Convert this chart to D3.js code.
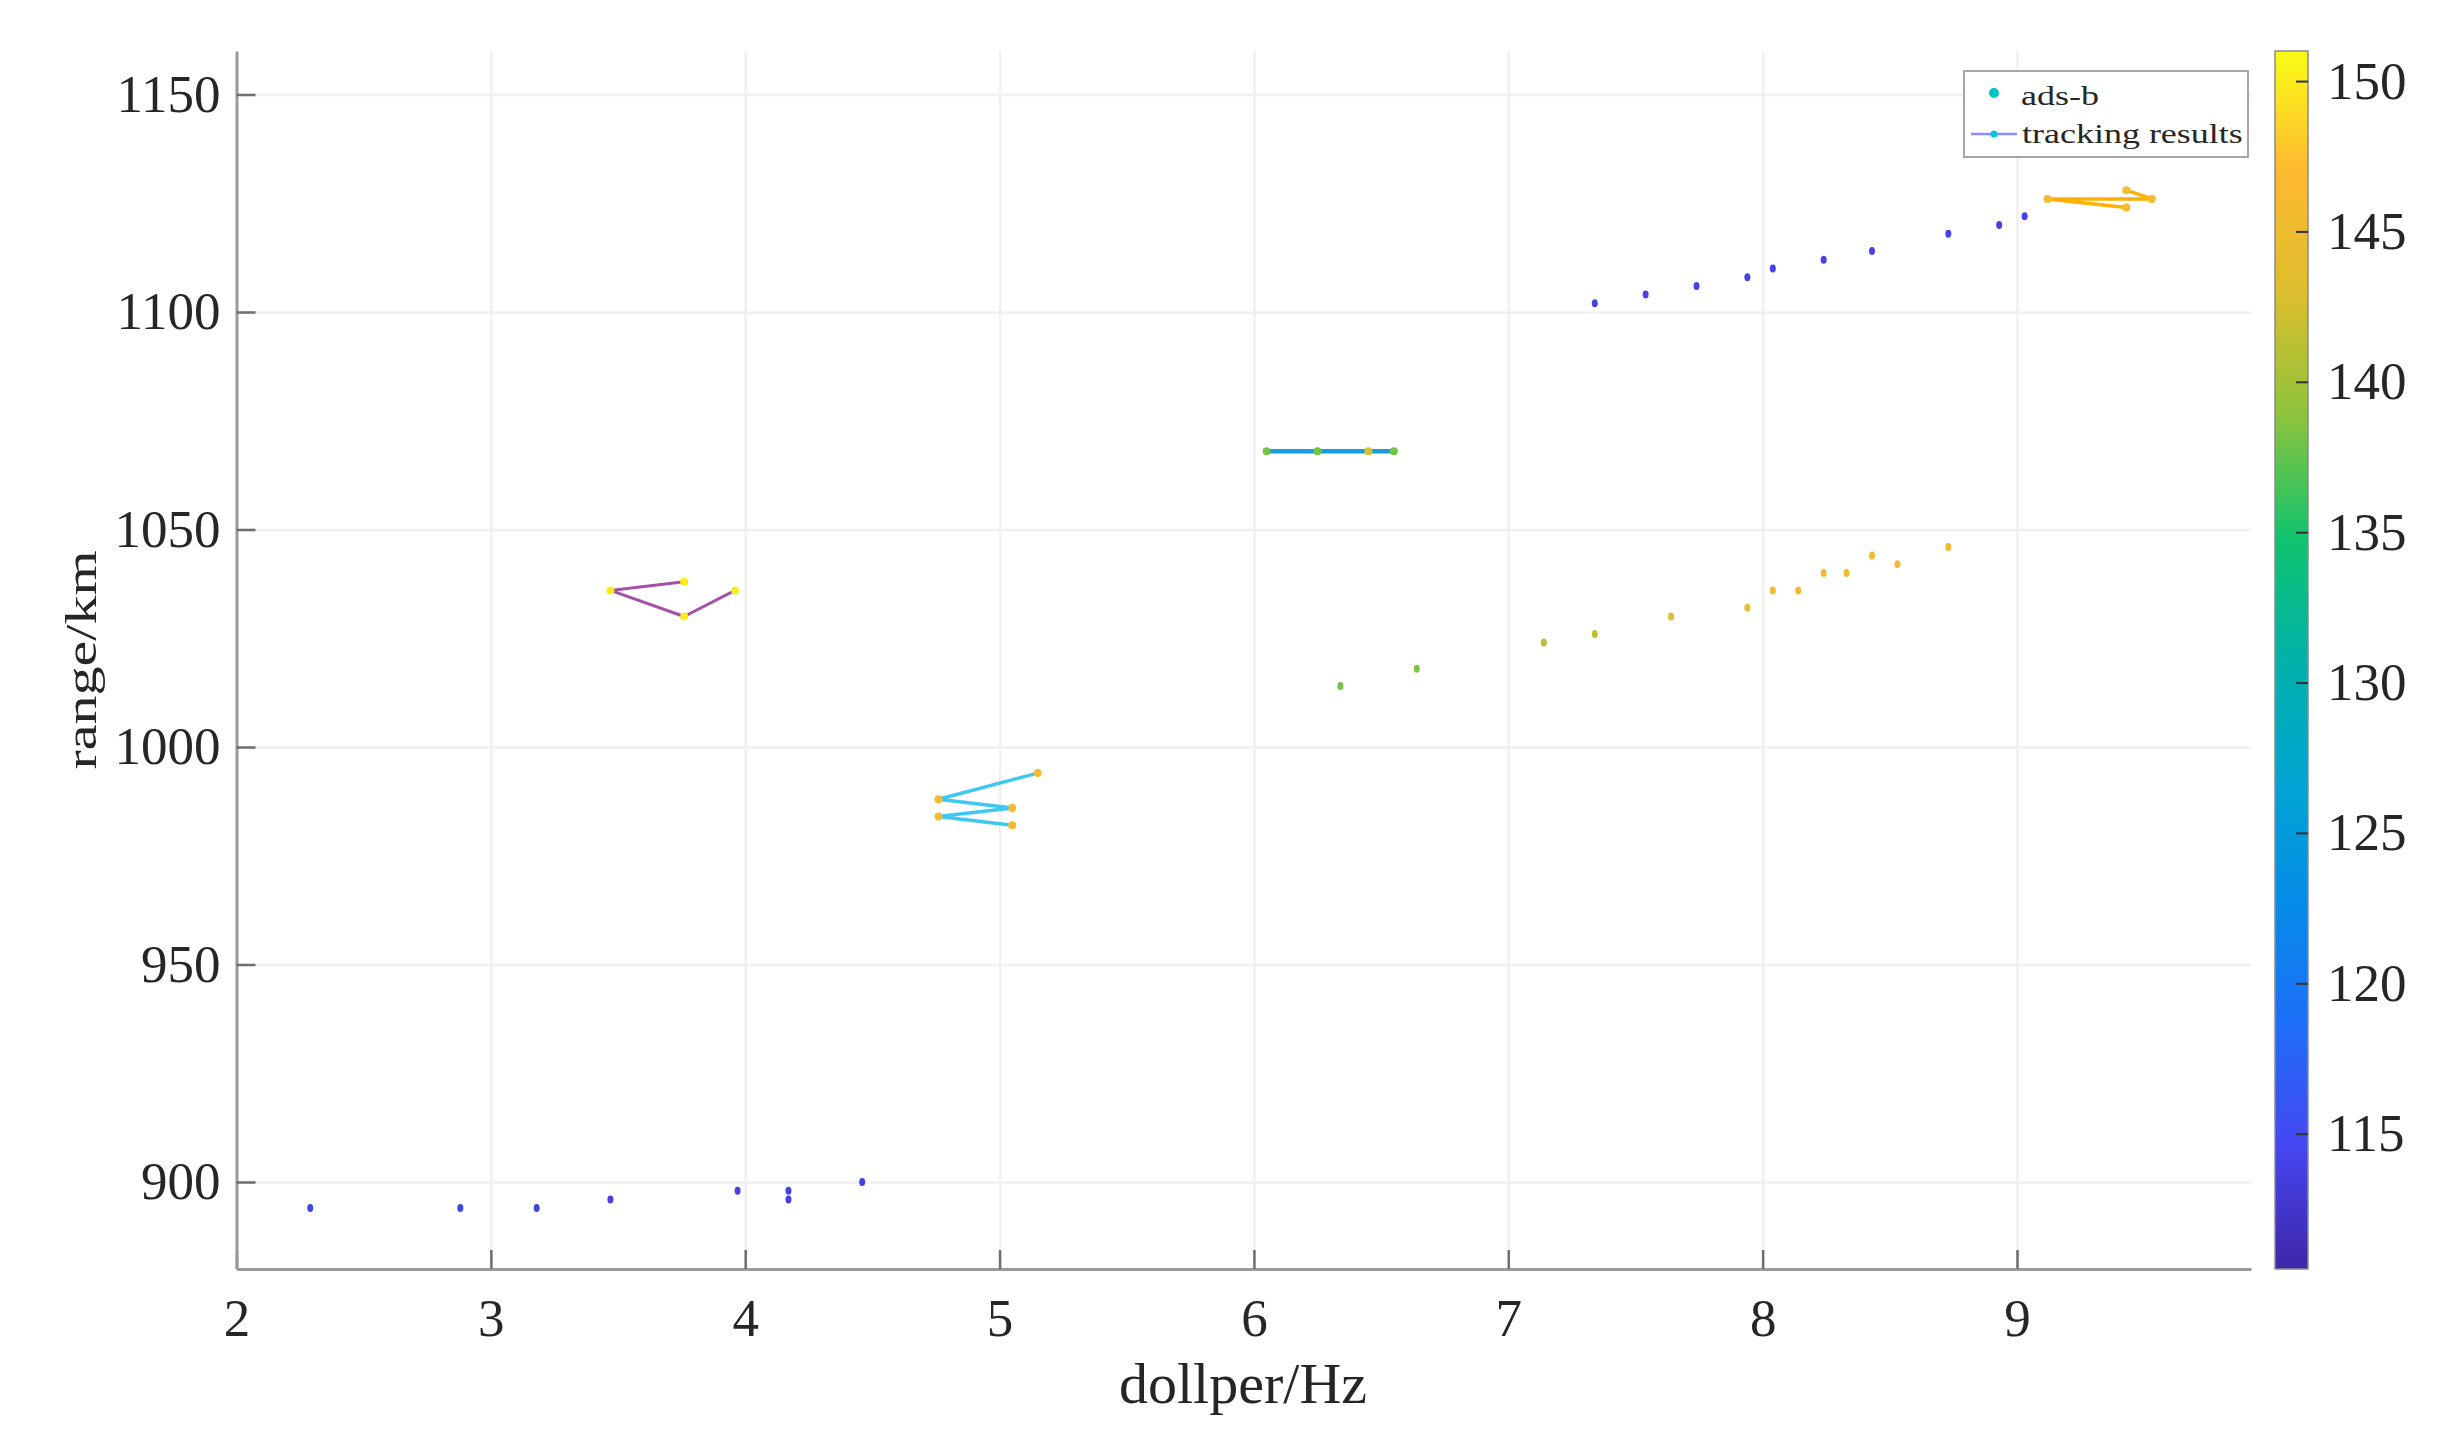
<!DOCTYPE html>
<html>
<head>
<meta charset="utf-8">
<script src="https://cdn.jsdelivr.net/npm/d3@7"></script>
<style>
  body { margin: 0; background: #fff; }
  text { font-family: "Liberation Serif", "Times New Roman", serif; fill: #262626; }
</style>
</head>
<body>
<div id="chart"></div>
<script>
// tick labels
const dopplerTicks = [2, 3, 4, 5, 6, 7, 8, 9];
const rangeTicks = [900, 950, 1000, 1050, 1100, 1150];
const colorTicks = [115, 120, 125, 130, 135, 140, 145, 150];

// ads-b points: doppler (Hz), range (km), colour value
const adsbDoppler = [2.29, 2.88, 3.18, 3.47, 3.97, 4.17, 4.17, 4.46,
  7.34, 7.54, 7.74, 7.94, 8.04, 8.24, 8.43, 8.73, 8.93, 9.03,
  6.34, 6.64, 7.14, 7.34, 7.64, 7.94, 8.04, 8.14, 8.24, 8.33, 8.43, 8.53, 8.73];
const adsbRange = [894, 894, 894, 896, 898, 898, 896, 900,
  1102, 1104, 1106, 1108, 1110, 1112, 1114, 1118, 1120, 1122,
  1014, 1018, 1024, 1026, 1030, 1032, 1036, 1036, 1040, 1040, 1044, 1042, 1046];
const adsbValue = [114, 114, 114, 114, 114, 114, 114, 114,
  114, 114, 114, 114, 114, 114, 114, 114, 114, 114,
  138, 138.5, 141, 141.5, 143, 144, 145, 145, 145.5, 145.5, 146, 146, 146];

// tracking results
const trackPurpleX = [3.76, 3.47, 3.76, 3.96];
const trackPurpleY = [1038, 1036, 1030, 1036];
const trackPurpleC = [150, 150, 150, 150];

const trackCyanX = [5.15, 4.76, 5.05, 4.76, 5.05];
const trackCyanY = [994, 988, 986, 984, 982];
const trackCyanC = [146, 146, 146, 146, 146];

const trackBlueX = [6.05, 6.25, 6.45, 6.55];
const trackBlueY = [1068, 1068, 1068, 1068];
const trackBlueC = [138, 138, 143, 138];

const trackOrangeX = [9.43, 9.12, 9.53, 9.43];
const trackOrangeY = [1124, 1126, 1126, 1128];
const trackOrangeC = [146, 146, 146, 146];

const tracks = [
  {x: trackPurpleX, y: trackPurpleY, c: trackPurpleC, color: "#a352a8", w: 3},
  {x: trackCyanX, y: trackCyanY, c: trackCyanC, color: "#3cc8f0", w: 3.5},
  {x: trackBlueX, y: trackBlueY, c: trackBlueC, color: "#189ce0", w: 4.5},
  {x: trackOrangeX, y: trackOrangeY, c: trackOrangeC, color: "#ffb000", w: 3.5}
];

// parula-like colormap
const parula = ["#3e26a8", "#4646f0", "#1e6ef8", "#058ce8", "#00a5d2", "#00b2aa",
  "#10c36e", "#8cc33c", "#dcbe2d", "#feb932", "#f9fb14"];

const margin = {top: 51, right: 193, bottom: 182, left: 236.5},
    width = 2444 - margin.left - margin.right,
    height = 1451 - margin.top - margin.bottom;

const svg = d3.select("#chart")
  .append("svg")
    .attr("width", 2444)
    .attr("height", 1451);

const g = svg.append("g")
    .attr("transform", `translate(${margin.left},${margin.top})`);

const x = d3.scaleLinear().domain([2, 9.92]).range([0, width]);
const y = d3.scaleLinear().domain([880, 1160]).range([height, 0]);

const cmin = 110.5, cmax = 151;
const color = d3.scaleLinear()
  .domain(parula.map((d, i) => cmin + (cmax - cmin) * i / (parula.length - 1)))
  .range(parula)
  .interpolate(d3.interpolateRgb)
  .clamp(true);

// grid
g.append("g")
  .attr("transform", `translate(0,${height})`)
  .call(d3.axisBottom(x).tickValues(dopplerTicks.slice(1)).tickSize(-height).tickFormat(""))
  .call(a => a.select(".domain").remove())
  .selectAll("line").attr("stroke", "#f0f0f0").attr("stroke-width", 2.5);
g.append("g")
  .call(d3.axisLeft(y).tickValues(rangeTicks).tickSize(-width).tickFormat(""))
  .call(a => a.select(".domain").remove())
  .selectAll("line").attr("stroke", "#f0f0f0").attr("stroke-width", 2.5);

// axes
const xAxis = g.append("g")
  .attr("transform", `translate(0,${height})`)
  .call(d3.axisBottom(x).tickValues(dopplerTicks).tickFormat(d3.format("d"))
    .tickSizeInner(-19).tickSizeOuter(0).tickPadding(29));
const yAxis = g.append("g")
  .call(d3.axisLeft(y).tickValues(rangeTicks).tickFormat(d3.format("d"))
    .tickSizeInner(-19).tickSizeOuter(0).tickPadding(16));
[xAxis, yAxis].forEach(a => {
  a.select(".domain").attr("stroke", "#9a9a9a").attr("stroke-width", 3);
  a.selectAll(".tick line").attr("stroke", "#6e6e6e").attr("stroke-width", 2.5);
  a.selectAll(".tick text").style("font-size", "53px").attr("fill", "#262626");
});

// ads-b scatter
g.append("g")
  .selectAll("ellipse")
  .data(adsbDoppler.map((d, i) => ({x: d, y: adsbRange[i], c: adsbValue[i]})))
  .join("ellipse")
    .attr("cx", d => x(d.x))
    .attr("cy", d => y(d.y))
    .attr("rx", 3)
    .attr("ry", 4)
    .attr("fill", d => color(d.c));

// tracks
const line = d3.line().x(d => x(d.x)).y(d => y(d.y));
tracks.forEach(t => {
  const pts = t.x.map((d, i) => ({x: d, y: t.y[i], c: t.c[i]}));
  g.append("path")
    .datum(pts)
    .attr("fill", "none")
    .attr("stroke", t.color)
    .attr("stroke-width", t.w)
    .attr("stroke-linejoin", "round")
    .attr("d", line);
  g.append("g").selectAll("circle")
    .data(pts)
    .join("circle")
      .attr("cx", d => x(d.x))
      .attr("cy", d => y(d.y))
      .attr("r", 4)
      .attr("fill", d => color(d.c));
});

// axis labels
svg.append("text")
  .attr("x", 1243)
  .attr("y", 1403)
  .attr("text-anchor", "middle")
  .style("font-size", "58px")
  .text("dollper/Hz");
svg.append("text")
  .attr("text-anchor", "middle")
  .attr("transform", "translate(96,660) rotate(-90) scale(1,0.76)")
  .style("font-size", "58px")
  .text("range/km");

// legend
const leg = svg.append("g");
leg.append("rect")
  .attr("x", 1964).attr("y", 71).attr("width", 284).attr("height", 86)
  .attr("fill", "#fff").attr("stroke", "#a6a6a6").attr("stroke-width", 2);
leg.append("circle").attr("cx", 1994).attr("cy", 93).attr("r", 5).attr("fill", "#00c4c4");
leg.append("line").attr("x1", 1971).attr("x2", 2017).attr("y1", 134).attr("y2", 134)
  .attr("stroke", "#8c8cff").attr("stroke-width", 2.5);
leg.append("circle").attr("cx", 1994).attr("cy", 134).attr("r", 3.5).attr("fill", "#00c4e0");
leg.append("text").attr("transform", "translate(2021,105) scale(1,0.78)")
  .style("font-size", "36px").text("ads-b");
leg.append("text").attr("transform", "translate(2022,143) scale(1,0.78)")
  .style("font-size", "36px").text("tracking results");

// colorbar
const cbX = 2275, cbW = 33;
const cy = d3.scaleLinear().domain([cmin, cmax]).range([margin.top + height, margin.top]);
const grad = svg.append("defs").append("linearGradient")
  .attr("id", "cbgrad").attr("x1", 0).attr("x2", 0).attr("y1", 1).attr("y2", 0);
grad.selectAll("stop")
  .data(d3.range(0, 1.0001, 0.02))
  .join("stop")
    .attr("offset", d => d)
    .attr("stop-color", d => color(cmin + d * (cmax - cmin)));
svg.append("rect")
  .attr("x", cbX).attr("y", margin.top).attr("width", cbW).attr("height", height)
  .attr("fill", "url(#cbgrad)").attr("stroke", "#8a8a8a").attr("stroke-width", 1.5);
const cAxis = svg.append("g")
  .attr("transform", `translate(${cbX + cbW},0)`)
  .call(d3.axisRight(cy).tickValues(colorTicks).tickSizeInner(-12).tickSizeOuter(0).tickPadding(19));
cAxis.select(".domain").remove();
cAxis.selectAll(".tick line").attr("stroke", "#333").attr("stroke-width", 2);
cAxis.selectAll(".tick text").style("font-size", "53px").attr("fill", "#262626");
</script>
</body>
</html>
